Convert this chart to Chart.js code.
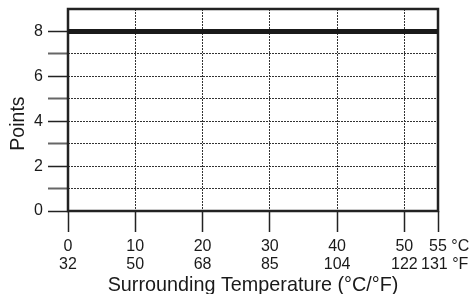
<!DOCTYPE html>
<html>
<head>
<meta charset="utf-8">
<script src="https://cdn.jsdelivr.net/npm/chart.js@4"></script>
<style>
html, body { margin: 0; padding: 0; background: #fff; }
</style>
</head>
<body>
<canvas id="chart" width="473" height="294"></canvas>
<script>
// data
const tempC = [0, 55]
const points = [8, 8]
const xTicksC = [0, 10, 20, 30, 40, 50, 55]
const xTicksF = ['32', '50', '68', '85', '104', '122', '131']
const yTicks = [0, 1, 2, 3, 4, 5, 6, 7, 8, 9]
const yLabels = [0, 2, 4, 6, 8]

Chart.defaults.font.family = '"Liberation Sans", Arial, sans-serif'
Chart.defaults.color = '#1a1a1a'

// frame round the plot area
const framePlugin = {
    id: 'frame',
    beforeDatasetsDraw(chart) {
        const a = chart.chartArea
        const ctx = chart.ctx
        ctx.save()
        ctx.strokeStyle = '#222'
        ctx.lineWidth = 2.5
        ctx.strokeRect(a.left, a.top, a.right - a.left, a.bottom - a.top)
        ctx.restore()
    }
}

var ctx = document.getElementById('chart')
var myChart = new Chart(ctx, {
    type: 'line',
    data: {
        datasets: [{
            data: tempC.map((c, i) => ({x: c, y: points[i]})),
            borderColor: '#1a1a1a',
            borderWidth: 5,
            borderCapStyle: 'butt',
            pointRadius: 0,
            tension: 0
        }]
    },
    options: {
        responsive: false,
        animation: false,
        devicePixelRatio: 1,
        layout: { padding: { top: 9, right: 35, left: 0, bottom: 0 } },
        plugins: { legend: { display: false }, tooltip: { enabled: false } },
        scales: {
            x: {
                type: 'linear',
                min: 0,
                max: 55,
                afterBuildTicks: s => { s.ticks = xTicksC.map(v => ({value: v})) },
                afterFit: s => {
                    s.height = 83
                    s.paddingLeft = 0
                    s.paddingRight = 0
                },
                ticks: {
                    autoSkip: false,
                    maxRotation: 0,
                    padding: 6,
                    font: { size: 16, lineHeight: 1.1 },
                    callback: function (value, index) {
                        if (index == xTicksC.length - 1) {
                            return ['     ' + value + ' °C', '   ' + xTicksF[index] + ' °F']
                        }
                        return [String(value), xTicksF[index]]
                    }
                },
                grid: {
                    tickLength: 21,
                    lineWidth: 1,
                    color: c => (c.index == 0 || c.index == xTicksC.length - 1) ? 'rgba(0,0,0,0)' : '#333',
                    tickColor: '#222',
                    tickWidth: 1.5
                },
                border: { display: false, dash: [2, 1] },
                title: {
                    display: true,
                    text: 'Surrounding Temperature (°C/°F)',
                    font: { size: 19.8, lineHeight: 1 },
                    padding: { top: 0, bottom: -1 }
                }
            },
            y: {
                type: 'linear',
                min: 0,
                max: 9,
                afterBuildTicks: s => { s.ticks = yTicks.map(v => ({value: v})) },
                afterFit: s => {
                    s.width = 68
                    s.paddingTop = 0
                    s.paddingBottom = 0
                },
                ticks: {
                    autoSkip: false,
                    padding: 5,
                    font: { size: 16 },
                    // top tick (9) has no label and no grid line, the frame covers it
                    callback: value => value == 9 ? null : (yLabels.includes(value) ? String(value) : '')
                },
                grid: {
                    tickLength: 20,
                    lineWidth: 1,
                    color: c => (c.tick.value == 0 || c.tick.value == 9) ? 'rgba(0,0,0,0)' : '#333',
                    tickColor: c => c.tick.value % 2 ? '#666' : '#222',
                    tickWidth: c => c.tick.value % 2 ? 2 : 1.5
                },
                border: { display: false, dash: [2, 1] },
                title: {
                    display: true,
                    text: 'Points     ',
                    font: { size: 19.5, lineHeight: 1 },
                    padding: { top: 9, bottom: 0 }
                }
            }
        }
    },
    plugins: [framePlugin]
});
</script>
</body>
</html>
